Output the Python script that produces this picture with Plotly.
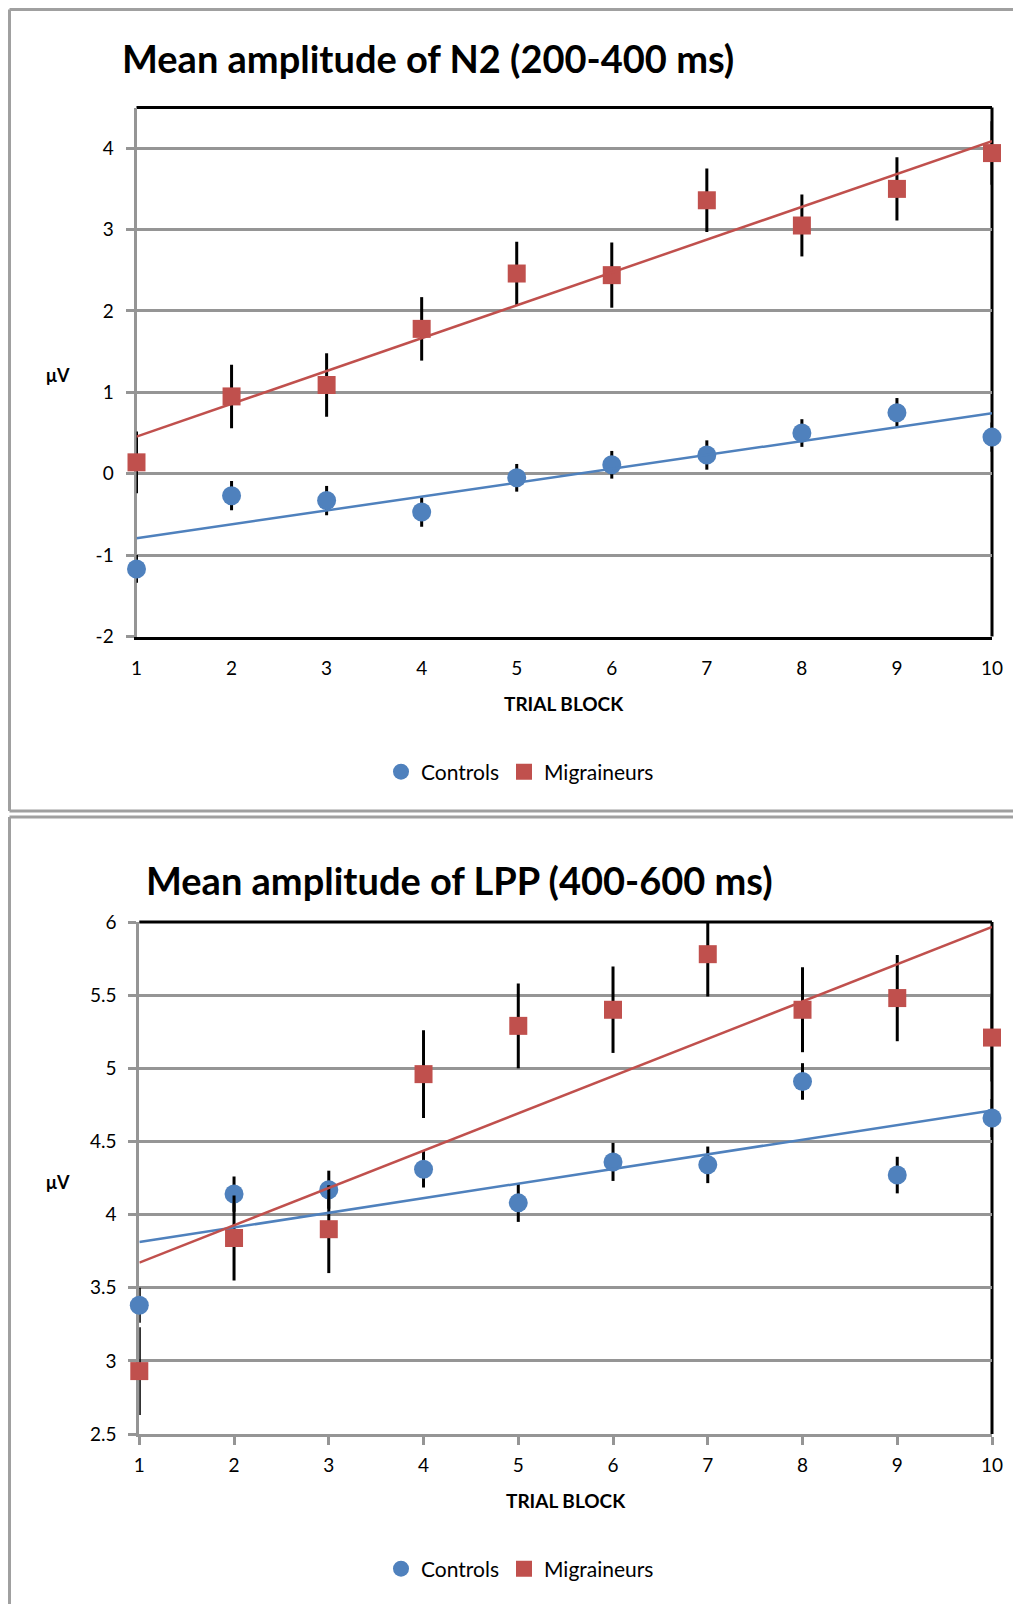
import numpy as np
import plotly.graph_objects as go

blocks = [1, 2, 3, 4, 5, 6, 7, 8, 9, 10]

# N2 (200-400 ms)
n2_controls = [-1.17, -0.27, -0.33, -0.47, -0.05, 0.11, 0.23, 0.50, 0.75, 0.45]
n2_controls_err = [0.17, 0.18, 0.18, 0.18, 0.17, 0.17, 0.18, 0.17, 0.18, 0.18]
n2_migr = [0.14, 0.95, 1.09, 1.78, 2.46, 2.44, 3.36, 3.05, 3.50, 3.94]
n2_migr_err = [0.38, 0.39, 0.39, 0.39, 0.39, 0.40, 0.39, 0.38, 0.39, 0.39]
n2_ticks = [-2, -1, 0, 1, 2, 3, 4]
n2_ticktext = ["-2", "-1", "0", "1", "2", "3", "4"]

# LPP (400-600 ms)
lpp_controls = [3.38, 4.14, 4.17, 4.31, 4.08, 4.36, 4.34, 4.91, 4.27, 4.66]
lpp_controls_err = [0.12, 0.12, 0.13, 0.125, 0.13, 0.13, 0.125, 0.125, 0.125, 0.13]
lpp_migr = [2.93, 3.84, 3.90, 4.96, 5.29, 5.40, 5.78, 5.40, 5.48, 5.21]
lpp_migr_err = [0.30, 0.29, 0.30, 0.30, 0.29, 0.295, 0.29, 0.29, 0.295, 0.30]
lpp_ticks = [2.5, 3, 3.5, 4, 4.5, 5, 5.5, 6]
lpp_ticktext = ["2.5", "3", "3.5", "4", "4.5", "5", "5.5", "6"]

titles = ["Mean amplitude of N2 (200-400 ms)", "Mean amplitude of LPP (400-600 ms)"]

# the page body keeps its default 8px margin, so positions are shifted by 8px
OFF = 8
W, H = 1021, 1604
BLUE = "#4F81BD"
RED = "#C0504D"
GRID = "#959595"
FRAME = "#a0a0a0"
FONT = "Lato"


def px(x):
    return (x - OFF) / W


def py(y):
    return 1 - (y - OFF) / H


fig = go.Figure()


def add_panel(n, ctrl, ctrl_err, migr, migr_err, legend):
    xa = "x" if n == 1 else "x2"
    ya = "y" if n == 1 else "y2"
    fig.add_trace(go.Scatter(
        x=blocks, y=ctrl, mode="markers", name="Controls", xaxis=xa, yaxis=ya,
        marker=dict(symbol="circle", size=19, color=BLUE),
        error_y=dict(type="data", array=ctrl_err, color="black", thickness=3, width=0),
        cliponaxis=False, legend=legend))
    fig.add_trace(go.Scatter(
        x=blocks, y=migr, mode="markers", name="Migraineurs", xaxis=xa, yaxis=ya,
        marker=dict(symbol="square", size=18, color=RED),
        error_y=dict(type="data", array=migr_err, color="black", thickness=3, width=0),
        cliponaxis=False, legend=legend))
    # linear trendlines
    for vals, col in [(ctrl, BLUE), (migr, RED)]:
        k, b = np.polyfit(blocks, vals, 1)
        ends = [blocks[0], blocks[-1]]
        fig.add_trace(go.Scatter(
            x=ends, y=[k * e + b for e in ends], mode="lines", xaxis=xa, yaxis=ya,
            line=dict(color=col, width=2.5), showlegend=False, hoverinfo="skip"))


add_panel(1, n2_controls, n2_controls_err, n2_migr, n2_migr_err, "legend")
add_panel(2, lpp_controls, lpp_controls_err, lpp_migr, lpp_migr_err, "legend2")

tickfont = dict(family=FONT, size=19, color="black")
ycommon = dict(showgrid=True, gridcolor=GRID, gridwidth=2.5, zeroline=False,
               showline=True, linecolor=GRID, linewidth=3, ticks="outside",
               ticklen=8, tickwidth=2.5, tickcolor=GRID, tickfont=tickfont,
               ticklabelstandoff=8, layer="below traces", automargin=False)
xcommon = dict(tickvals=blocks, showgrid=False, zeroline=False, showline=True,
               linewidth=3, tickfont=tickfont, layer="below traces", automargin=False)

legend_style = dict(orientation="h", x=px(520), xanchor="center", yanchor="middle",
                    font=dict(family=FONT, size=21, color="black"), itemwidth=30)

fig.update_layout(
    width=W, height=H, margin=dict(l=0, r=0, t=0, b=0, autoexpand=False),
    plot_bgcolor="white", paper_bgcolor="white",
    font=dict(family=FONT, color="black"),
    xaxis=dict(domain=[px(136.5), px(992)], range=[1, 10], anchor="y",
               linecolor="black", ticks="", ticklabelstandoff=13, **xcommon),
    yaxis=dict(domain=[py(636.5), py(107.5)], range=[-2, 4.5], tickvals=n2_ticks,
               ticktext=n2_ticktext, anchor="x", **ycommon),
    xaxis2=dict(domain=[px(139.3), px(992)], range=[1, 10], anchor="y2",
                linecolor=GRID, ticks="outside", ticklen=8, tickwidth=2.5,
                tickcolor=GRID, ticklabelstandoff=4, **xcommon),
    yaxis2=dict(domain=[py(1434), py(922)], range=[2.5, 6], tickvals=lpp_ticks,
                ticktext=lpp_ticktext, anchor="x2", **ycommon),
    legend=dict(y=py(772), **legend_style),
    legend2=dict(y=py(1569), **legend_style),
)

# plot-area borders (top and right) in black
shapes = []
for xr, yr in [("x", "y"), ("x2", "y2")]:
    shapes.append(dict(type="line", xref=xr + " domain", yref=yr + " domain",
                       x0=0, x1=1, y0=1, y1=1, line=dict(color="black", width=3),
                       layer="below"))
    shapes.append(dict(type="line", xref=xr + " domain", yref=yr + " domain",
                       x0=1, x1=1, y0=0, y1=1, line=dict(color="black", width=3),
                       layer="below"))
# outer chart frames, kept inside the paper
frame = dict(type="line", xref="paper", yref="paper", line=dict(color=FRAME, width=3))
for x0, x1, y0, y1 in [
    (9.5, 1029, 9.5, 9.5), (9.5, 9.5, 9.5, 811), (9.5, 1029, 811, 811),
    (9.5, 1029, 817, 817), (9.5, 9.5, 817, 1612),
]:
    shapes.append(dict(frame, x0=max(px(x0), 0), x1=min(px(x1), 1),
                       y0=min(py(y0), 1), y1=max(py(y1), 0)))
fig.update_layout(shapes=shapes)

ann = []
for t, x, y in [(titles[0], 119.5, 58), (titles[1], 144, 880)]:
    ann.append(dict(text="<b>%s</b>" % t, x=px(x), y=py(y), xref="paper", yref="paper",
                    xanchor="left", yanchor="middle", showarrow=False,
                    font=dict(family=FONT, size=38, color="black")))
for x, y in [(564, 703), (566, 1500)]:
    ann.append(dict(text="<b>TRIAL BLOCK</b>", x=px(x), y=py(y), xref="paper", yref="paper",
                    xanchor="center", yanchor="middle", showarrow=False,
                    font=dict(family=FONT, size=19, color="black")))
for y in [375, 1182]:
    ann.append(dict(text="<b>μV</b>", x=px(58), y=py(y), xref="paper", yref="paper",
                    xanchor="center", yanchor="middle", showarrow=False,
                    font=dict(family=FONT, size=18, color="black")))
fig.update_layout(annotations=ann)

fig.write_html("out.html", config={"displayModeBar": False})
